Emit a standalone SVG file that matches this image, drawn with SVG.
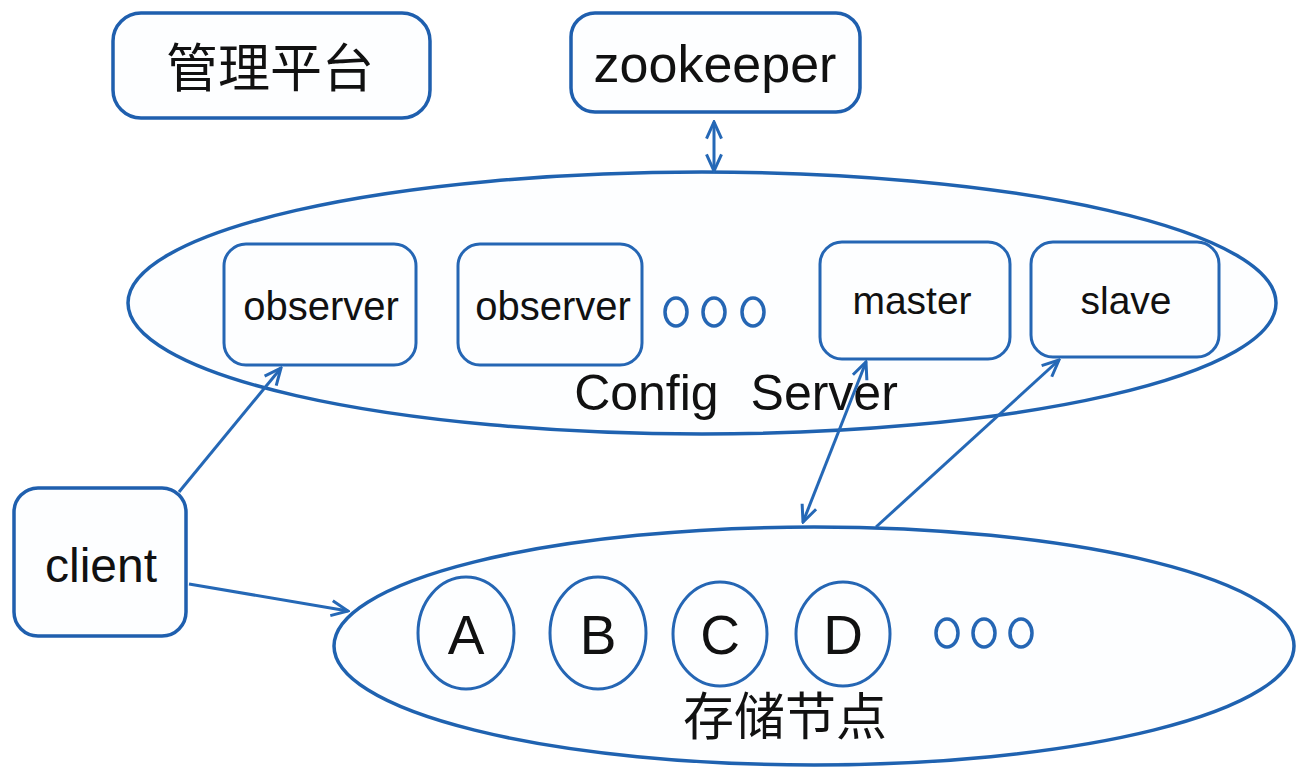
<svg xmlns="http://www.w3.org/2000/svg" width="1298" height="770" viewBox="0 0 1298 770">
<style>
.box{fill:#fdfeff;stroke:#1f5fae;stroke-width:3.5}
.ell{fill:#fdfeff;stroke:#1f62b0;stroke-width:3.5}
.inner{fill:#fdfeff;stroke:#2566b4;stroke-width:3}
.dot{fill:none;stroke:#2566b4;stroke-width:3.5}
.t{font-family:"Liberation Sans",Arial,sans-serif;fill:#111;text-anchor:middle}
.cjk{font-family:"Liberation Sans","Noto Sans CJK SC",sans-serif;fill:#111;text-anchor:middle}
.conn{stroke:#2568b6;stroke-width:3;fill:none}
</style>
<defs>
<marker id="ah2" viewBox="0 0 12 12" refX="11" refY="6" markerWidth="20" markerHeight="20" orient="auto-start-reverse" markerUnits="userSpaceOnUse">
<path d="M1,1.5 L11,6 L1,10.5" fill="none" stroke="#2568b6" stroke-width="1.8"/>
</marker>
</defs>

<g id="mgmt">
<rect class="box" x="113" y="13" width="317" height="105" rx="28"/>
<text class="cjk" x="270" y="87" font-size="52">管理平台</text>
</g>

<g id="zookeeper">
<rect class="box" x="571" y="13" width="289" height="99" rx="24"/>
<text class="t" x="715" y="82" font-size="52">zookeeper</text>
</g>

<g id="config-server">
<ellipse class="ell" cx="702" cy="303" rx="574" ry="131"/>
<text class="t" x="736" y="410" font-size="50" word-spacing="18">Config Server</text>
</g>

<g id="observer1">
<rect class="inner" x="224" y="244" width="192" height="121" rx="22"/>
<text class="t" x="321" y="320" font-size="40">observer</text>
</g>
<g id="observer2">
<rect class="inner" x="458" y="244" width="184" height="121" rx="22"/>
<text class="t" x="553" y="320" font-size="40">observer</text>
</g>
<g id="config-dots">
<ellipse class="dot" cx="676" cy="312" rx="11" ry="14"/>
<ellipse class="dot" cx="714" cy="312" rx="11" ry="14"/>
<ellipse class="dot" cx="753" cy="312" rx="11" ry="14"/>
</g>
<g id="master">
<rect class="inner" x="820" y="242" width="190" height="117" rx="22"/>
<text class="t" x="912" y="314" font-size="39">master</text>
</g>
<g id="slave">
<rect class="inner" x="1031" y="242" width="188" height="115" rx="22"/>
<text class="t" x="1126" y="314" font-size="39">slave</text>
</g>

<g id="client">
<rect class="box" x="14" y="488" width="172" height="148" rx="24"/>
<text class="t" x="101" y="582" font-size="48">client</text>
</g>

<g id="storage">
<ellipse class="ell" cx="814" cy="646" rx="480" ry="119"/>
<text class="cjk" x="785" y="735" font-size="51">存储节点</text>
</g>
<g id="nodeA">
<ellipse class="inner" cx="466" cy="633" rx="48" ry="56"/>
<text class="t" x="466" y="654" font-size="55">A</text>
</g>
<g id="nodeB">
<ellipse class="inner" cx="598" cy="633" rx="48" ry="56"/>
<text class="t" x="598" y="654" font-size="55">B</text>
</g>
<g id="nodeC">
<ellipse class="inner" cx="720" cy="634" rx="47" ry="52"/>
<text class="t" x="720" y="654" font-size="55">C</text>
</g>
<g id="nodeD">
<ellipse class="inner" cx="843" cy="634" rx="47" ry="52"/>
<text class="t" x="843" y="654" font-size="55">D</text>
</g>
<g id="storage-dots">
<ellipse class="dot" cx="947" cy="633" rx="11" ry="14"/>
<ellipse class="dot" cx="984" cy="633" rx="11" ry="14"/>
<ellipse class="dot" cx="1021" cy="633" rx="11" ry="14"/>
</g>

<g id="connectors">
<line class="conn" x1="714" y1="122" x2="714" y2="171" stroke-width="4" marker-start="url(#ah2)" marker-end="url(#ah2)"/>
<line class="conn" x1="179" y1="492" x2="281" y2="368" marker-end="url(#ah2)"/>
<line class="conn" x1="189" y1="584" x2="348" y2="611" marker-end="url(#ah2)"/>
<line class="conn" x1="866" y1="362" x2="803" y2="522" marker-start="url(#ah2)" marker-end="url(#ah2)"/>
<line class="conn" x1="876" y1="527" x2="1059" y2="360" marker-end="url(#ah2)"/>
</g>
</svg>
